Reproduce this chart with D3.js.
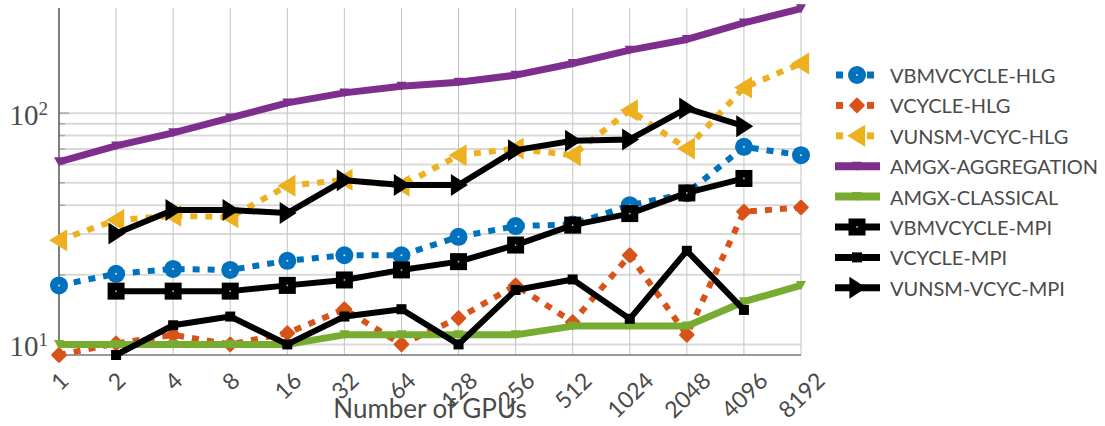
<!DOCTYPE html>
<html>
<head>
<meta charset="utf-8">
<script src="https://cdn.jsdelivr.net/npm/d3@7"></script>
<style>
  html, body { margin: 0; padding: 0; background: #fff; }
  svg { display: block; }
</style>
</head>
<body>
<svg id="chart" width="1105" height="426"></svg>
<script>
// GPU counts along the x axis
const categories = ["1","2","4","8","16","32","64","128","256","512","1024","2048","4096","8192"];

// Solve time per solver variant (log scale); null = no run at that GPU count
const vbmvcycleHLG   = [18.0, 20.2, 21.2, 21.0, 23.0, 24.3, 24.3, 29.2, 32.5, 33.0, 40.0, 45.0, 71.5, 65.8];
const vcycleHLG      = [9.0, 10.1, 11.0, 10.0, 11.2, 14.2, 10.0, 13.0, 18.0, 12.5, 24.3, 11.0, 37.5, 39.1];
const vunsmVcycHLG   = [28.2, 34.5, 36.0, 35.5, 48.5, 51.5, 48.5, 65.8, 70.3, 65.8, 103, 70.3, 129, 164];
const amgxAggregation= [61.6, 72.2, 82.2, 95.4, 110.8, 122.4, 130.8, 136.2, 146, 164, 187.3, 208.3, 245.7, 283];
const amgxClassical  = [10, 10, 10, 10, 10, 11, 11, 11, 11, 12, 12, 12, 15.3, 18.0];
const vbmvcycleMPI   = [null, 17.0, 17.0, 17.0, 18.0, 19.0, 21.0, 22.8, 26.9, 32.8, 36.8, 45.2, 52.2, null];
const vcycleMPI      = [null, 9.0, 12.1, 13.2, 10.0, 13.2, 14.2, 10.0, 17.2, 19.1, 12.9, 25.4, 14.1, null];
const vunsmVcycMPI   = [null, 30.2, 38.1, 38.1, 37.0, 51.3, 48.9, 48.9, 69.2, 76.0, 77.0, 104.8, 87.9, null];

const seriesNames = ["VBMVCYCLE-HLG","VCYCLE-HLG","VUNSM-VCYC-HLG","AMGX-AGGREGATION",
                     "AMGX-CLASSICAL","VBMVCYCLE-MPI","VCYCLE-MPI","VUNSM-VCYC-MPI"];
const seriesValues = [vbmvcycleHLG, vcycleHLG, vunsmVcycHLG, amgxAggregation,
                      amgxClassical, vbmvcycleMPI, vcycleMPI, vunsmVcycMPI];
const yMajorTicks = [10, 100];
const yMinorTicks = [20, 30, 40, 50, 60, 70, 80, 90];
const xTitle = "Number of GPUs";

// Per-series styling
const styles = [
  { color: "#0072BD", dotted: true,  width: 6, marker: "circle" },
  { color: "#D95319", dotted: true,  width: 6, marker: "diamond" },
  { color: "#EDB120", dotted: true,  width: 6, marker: "triLeft" },
  { color: "#7E2F8E", dotted: false, width: 7, marker: "triDown" },
  { color: "#77AC30", dotted: false, width: 7, marker: "triDown" },
  { color: "#000000", dotted: false, width: 6, marker: "bigSquare" },
  { color: "#000000", dotted: false, width: 6, marker: "smallSquare" },
  { color: "#000000", dotted: false, width: 6, marker: "triRight" }
];

const svg = d3.select("#chart");
const plot = { left: 59, right: 801, top: 8, bottom: 355 };

const x = d3.scalePoint().domain(categories).range([plot.left, plot.right]);
const y = d3.scaleLog().domain([9, 285]).range([plot.bottom, plot.top]);

// Grid
const grid = svg.append("g");
grid.selectAll("line.hg")
  .data(yMinorTicks.concat(yMajorTicks))
  .join("line")
  .attr("x1", plot.left).attr("x2", plot.right)
  .attr("y1", d => y(d)).attr("y2", d => y(d))
  .attr("stroke", "#d9d9d9").attr("stroke-width", 2);
grid.selectAll("line.vg")
  .data(categories.slice(1))
  .join("line")
  .attr("x1", d => x(d)).attr("x2", d => x(d))
  .attr("y1", plot.top).attr("y2", plot.bottom)
  .attr("stroke", "#c4c4c4").attr("stroke-width", 1);

// Inner ticks on the y axis
grid.selectAll("line.yt")
  .data(yMajorTicks.map(v => ({ v, len: 10 })).concat(yMinorTicks.map(v => ({ v, len: 6 }))))
  .join("line")
  .attr("x1", plot.left).attr("x2", d => plot.left + d.len)
  .attr("y1", d => y(d.v)).attr("y2", d => y(d.v))
  .attr("stroke", "#aaaaaa").attr("stroke-width", 1.5);

// Axis lines
svg.append("line").attr("x1", plot.left).attr("x2", plot.left)
  .attr("y1", plot.top).attr("y2", plot.bottom)
  .attr("stroke", "#555").attr("stroke-width", 1.5);
svg.append("line").attr("x1", plot.left).attr("x2", plot.right)
  .attr("y1", plot.bottom).attr("y2", plot.bottom)
  .attr("stroke", "#777").attr("stroke-width", 1.5);

// Y tick labels: 10^1, 10^2
const yl = svg.append("g").attr("font-family", "'Liberation Serif', serif").attr("fill", "#4a4a4a");
yMajorTicks.forEach(v => {
  const t = yl.append("text")
    .attr("x", 48).attr("y", y(v) + 12)
    .attr("text-anchor", "end")
    .attr("font-size", 29);
  t.append("tspan").text("10");
  t.append("tspan").attr("dy", -10).attr("font-size", 19).text(String(Math.round(Math.log10(v))));
});

// X tick labels, rotated, top-aligned under each tick
const angle = 44;
const xl = svg.append("g").attr("font-family", "Lato, sans-serif").attr("fill", "#4a4a4a");
categories.forEach(c => {
  const t = xl.append("text")
    .attr("text-anchor", "middle")
    .attr("dominant-baseline", "central")
    .attr("font-size", 23)
    .text(c);
  const w = t.node().getComputedTextLength();
  const h = 16.5;
  const rad = angle * Math.PI / 180;
  const half = (w * Math.sin(rad) + h * Math.cos(rad)) / 2;
  t.attr("transform", `translate(${x(c)},${370 + half}) rotate(${-angle})`);
});

// X axis title
svg.append("text")
  .attr("x", (plot.left + plot.right) / 2).attr("y", 418)
  .attr("text-anchor", "middle")
  .attr("font-family", "Lato, sans-serif").attr("font-size", 26)
  .attr("fill", "#4a4a4a")
  .text(xTitle);

// Marker drawing
function drawMarker(g, kind, color, cx, cy, scale) {
  const s = scale || 1;
  switch (kind) {
    case "circle":
      g.append("circle").attr("cx", cx).attr("cy", cy).attr("r", 9 * s).attr("fill", color);
      g.append("circle").attr("cx", cx).attr("cy", cy).attr("r", 1).attr("fill", "#cfe3f3");
      break;
    case "diamond": {
      const r = 6.5 * s;
      g.append("path")
        .attr("d", `M${cx},${cy - r}L${cx + r},${cy}L${cx},${cy + r}L${cx - r},${cy}Z`)
        .attr("fill", color).attr("stroke", color).attr("stroke-width", 2.5).attr("stroke-linejoin", "round");
      break;
    }
    case "triLeft": {
      const w = 18 * s, h = 22 * s;
      g.append("path")
        .attr("d", `M${cx - w * 0.55},${cy}L${cx + w * 0.45},${cy - h / 2}L${cx + w * 0.45},${cy + h / 2}Z`)
        .attr("fill", color);
      break;
    }
    case "triRight": {
      const w = 17 * s, h = 22 * s;
      g.append("path")
        .attr("d", `M${cx + w * 0.55},${cy}L${cx - w * 0.45},${cy - h / 2}L${cx - w * 0.45},${cy + h / 2}Z`)
        .attr("fill", color);
      break;
    }
    case "triDown": {
      const w = 10 * s, h = 9 * s;
      g.append("path")
        .attr("d", `M${cx - w / 2},${cy - h / 2}L${cx + w / 2},${cy - h / 2}L${cx},${cy + h / 2}Z`)
        .attr("fill", color);
      break;
    }
    case "bigSquare": {
      const a = 17 * s;
      g.append("rect").attr("x", cx - a / 2).attr("y", cy - a / 2).attr("width", a).attr("height", a).attr("fill", color);
      g.append("circle").attr("cx", cx).attr("cy", cy).attr("r", 0.9).attr("fill", "#bbbbbb");
      break;
    }
    case "smallSquare": {
      const a = 10 * s;
      g.append("rect").attr("x", cx - a / 2).attr("y", cy - a / 2).attr("width", a).attr("height", a).attr("fill", color);
      break;
    }
  }
}

// Series lines and markers
const line = d3.line()
  .defined(d => d.v != null)
  .x(d => x(d.c))
  .y(d => y(d.v));

seriesValues.forEach((vals, i) => {
  const st = styles[i];
  const pts = vals.map((v, k) => ({ c: categories[k], v }));
  const g = svg.append("g");
  g.append("path")
    .datum(pts)
    .attr("d", line)
    .attr("fill", "none")
    .attr("stroke", st.color)
    .attr("stroke-width", st.width)
    .attr("stroke-linejoin", "round")
    .attr("stroke-dasharray", st.dotted ? "7,8" : null);
  pts.filter(p => p.v != null).forEach(p => drawMarker(g, st.marker, st.color, x(p.c), y(p.v)));
});

// Legend
const legend = svg.append("g");
seriesNames.forEach((name, i) => {
  const st = styles[i];
  const cy = 75 + i * 30.4;
  const g = legend.append("g");
  if (st.dotted) {
    g.append("rect").attr("x", 836).attr("y", cy - 3.5).attr("width", 7).attr("height", 7).attr("fill", st.color);
    g.append("rect").attr("x", 867).attr("y", cy - 3.5).attr("width", 7).attr("height", 7).attr("fill", st.color);
  } else {
    g.append("line").attr("x1", 835).attr("x2", 880).attr("y1", cy).attr("y2", cy)
      .attr("stroke", st.color).attr("stroke-width", st.width + 1);
  }
  drawMarker(g, st.marker, st.color, 857, cy, 1);
  g.append("text")
    .attr("x", 890).attr("y", cy)
    .attr("dominant-baseline", "central")
    .attr("font-family", "Lato, sans-serif").attr("font-size", 20)
    .attr("fill", "#4a4a4a")
    .text(name);
});
</script>
</body>
</html>
